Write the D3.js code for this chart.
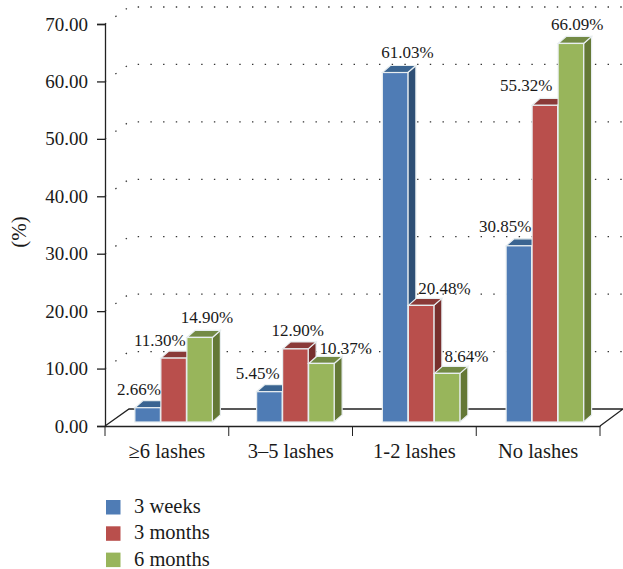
<!DOCTYPE html>
<html lang='en'>
  <head>
    <meta charset='utf-8'>
    <style type='text/css'>
      html, body {margin: 0; padding: 0; background-color: #fff;}
      svg {display: block;}
      text {font-family: "Liberation Serif", serif; fill: #1a1a1a;}
    </style>
  </head>
  <body>
    <svg id='chart' width='623' height='569'></svg>
    <script src='https://d3js.org/d3.v7.min.js'></script>
    <script type='text/javascript'>
      // Data
      var categories = ["\u22656 lashes", "3\u20135 lashes", "1-2 lashes", "No lashes"];
      var seriesNames = ["3 weeks", "3 months", "6 months"];
      var weeks3  = [2.66, 5.45, 61.03, 30.85];
      var months3 = [11.30, 12.90, 20.48, 55.32];
      var months6 = [14.90, 10.37, 8.64, 66.09];
      var yTicks = [0, 10, 20, 30, 40, 50, 60, 70];
      var seriesValues = [weeks3, months3, months6];

      // front, top and side colours per series
      var front = ["#4f7cb5", "#b94f4c", "#98b55b"];
      var topFace = ["#3a6491", "#8a3a38", "#738a45"];
      var side = ["#2e4f75", "#772f2d", "#647836"];

      // value label placement relative to the bar, [series][category]
      var labelNudge = [[-9, -12, 12, -14], [-14, 2, 23, -19], [7, 24, 19, 6]];
      var labelRise = [[13, 13, 14.5, 14], [12, 13, 11, 14], [14, 9, 11, 13]];
      var groupShift = [0, -2, 0, 0];

      var svg = d3.select("#chart");
      var depthX = 24, depthY = 17;   // floor depth
      var barDepthX = 8, barDepthY = 7;
      var barFoot = 422;              // bars stand a little behind the front edge

      var x = d3.scaleBand().domain(d3.range(categories.length)).range([105, 600]);
      var y = d3.scaleLinear().domain([0, 70]).range([426, 24]);
      var inner = d3.scaleBand().domain(d3.range(seriesNames.length)).range([0, 78]);
      var groupLeft = function(c) { return x(c) + x.bandwidth() / 2 - 32 + groupShift[c]; };
      var barTop = function(v) { return y(v) - 3; };

      // dotted walls
      var grid = svg.append("g");
      yTicks.slice(1).forEach(function(t) {
        grid.append("path")
          .attr("d", d3.line()([[105, y(t)], [105 + depthX, y(t) - depthY], [623, y(t) - depthY]]))
          .attr("fill", "none")
          .attr("stroke", "#333")
          .attr("stroke-width", 1.3)
          .attr("stroke-dasharray", "1.4 11.3");
      });

      // floor
      svg.append("path")
        .attr("d", d3.line()([[105, y(0)], [105 + depthX, y(0) - depthY], [623, y(0) - depthY], [600, y(0)]]))
        .attr("fill", "none")
        .attr("stroke", "#222")
        .attr("stroke-width", 1.3);

      // bars
      var bars = svg.append("g");
      categories.forEach(function(cat, c) {
        seriesValues.forEach(function(vals, s) {
          var x0 = groupLeft(c) + inner(s);
          var w = inner.bandwidth() - 0.5;
          var yTop = barTop(vals[c]);
          var g = bars.append("g").attr("stroke", "#e8eef0").attr("stroke-width", 1.2);
          g.append("path")
            .attr("fill", side[s])
            .attr("d", d3.line()([[x0 + w, yTop], [x0 + w + barDepthX, yTop - barDepthY],
              [x0 + w + barDepthX, barFoot - barDepthY], [x0 + w, barFoot]]) + "Z");
          g.append("path")
            .attr("fill", topFace[s])
            .attr("d", d3.line()([[x0, yTop], [x0 + barDepthX, yTop - barDepthY],
              [x0 + w + barDepthX, yTop - barDepthY], [x0 + w, yTop]]) + "Z");
          g.append("rect")
            .attr("x", x0).attr("y", yTop)
            .attr("width", w).attr("height", barFoot - yTop)
            .attr("fill", front[s]);
        });
      });

      // value labels
      categories.forEach(function(cat, c) {
        seriesValues.forEach(function(vals, s) {
          svg.append("text")
            .attr("x", groupLeft(c) + inner(s) + inner.bandwidth() / 2 + labelNudge[s][c])
            .attr("y", barTop(vals[c]) - labelRise[s][c])
            .attr("text-anchor", "middle")
            .attr("font-size", 17)
            .text(vals[c].toFixed(2) + "%");
        });
      });

      // axes
      var yAxis = d3.axisLeft(y).tickValues(yTicks).tickFormat(d3.format(".2f")).tickSize(8).tickPadding(9);
      var gy = svg.append("g").attr("transform", "translate(105,0)").call(yAxis);
      gy.selectAll("text").attr("font-size", 19);

      var xAxis = d3.axisBottom(x).tickSize(0).tickPadding(17).tickFormat(function(i) { return categories[i]; });
      var gx = svg.append("g").attr("transform", "translate(0," + y(0) + ")").call(xAxis);
      gx.selectAll("text").attr("font-size", 20.5);
      gx.selectAll(".sep")
        .data(d3.range(categories.length + 1))
        .enter().append("line")
        .attr("x1", function(i) { return 105 + i * x.bandwidth(); })
        .attr("x2", function(i) { return 105 + i * x.bandwidth(); })
        .attr("y1", 0).attr("y2", 10)
        .attr("stroke", "#222");

      svg.selectAll(".domain, .tick line").attr("stroke", "#222").attr("stroke-width", 1.3);
      svg.selectAll(".tick text").attr("fill", "#1a1a1a").style("font-family", '"Liberation Serif", serif');

      svg.append("text")
        .attr("transform", "translate(26,232) rotate(-90)")
        .attr("text-anchor", "middle")
        .attr("font-size", 21)
        .text("(%)");

      // legend
      seriesNames.forEach(function(name, s) {
        var ly = 500 + s * 26.3;
        svg.append("rect")
          .attr("x", 106).attr("y", ly).attr("width", 14.5).attr("height", 14.5)
          .attr("fill", front[s]);
        svg.append("text")
          .attr("x", 134).attr("y", ly + 13)
          .attr("font-size", 20.5)
          .text(name);
      });
    </script>
  </body>
</html>
